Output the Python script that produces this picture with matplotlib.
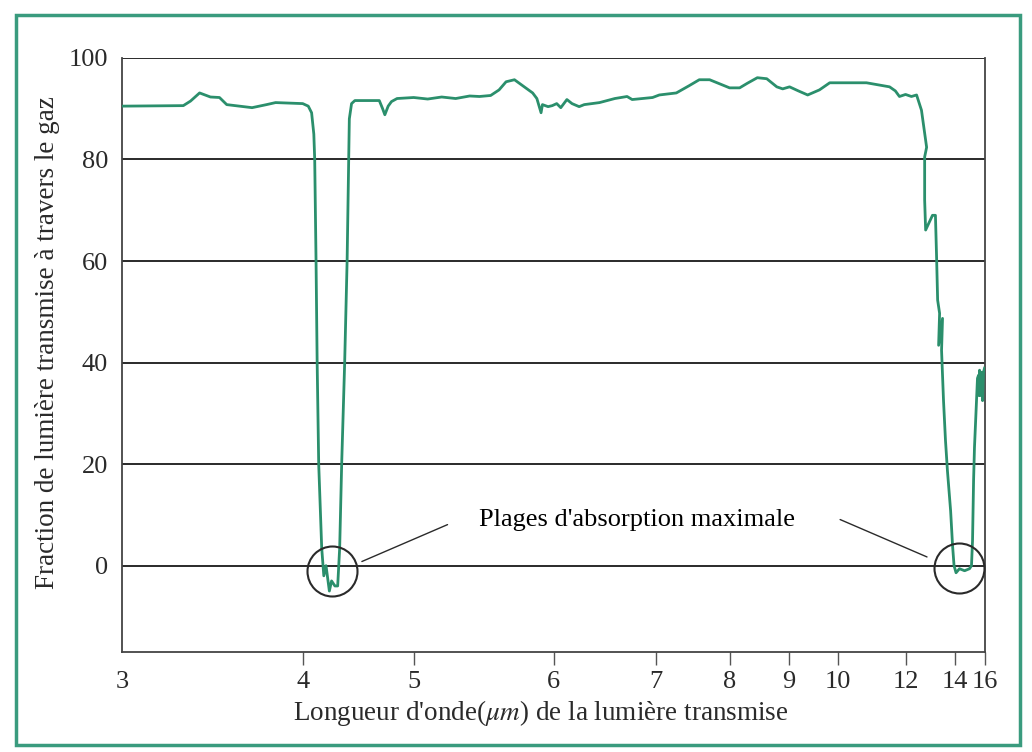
import numpy as np
import matplotlib
matplotlib.use('Agg')
import matplotlib.pyplot as plt
from matplotlib.patches import Rectangle

plt.rcParams['font.family'] = ['Liberation Serif', 'DejaVu Serif']
plt.rcParams['mathtext.fontset'] = 'stix'

# transmission spectrum (wavelength in um, transmitted %)
wavelength = [3.0, 3.34, 3.38, 3.43, 3.49, 3.54, 3.58, 3.72, 3.80, 3.85,
              4.00, 4.05, 4.08, 4.10, 4.108, 4.12, 4.13, 4.144, 4.171, 4.19,
              4.21, 4.24, 4.26, 4.29, 4.315, 4.333, 4.351, 4.378, 4.40, 4.414,
              4.42, 4.44, 4.47, 4.69, 4.72, 4.74, 4.77, 4.80, 4.85, 5.00,
              5.10, 5.20, 5.30, 5.40, 5.47, 5.55, 5.61, 5.66, 5.72, 5.78,
              5.85, 5.88, 5.91, 5.92, 5.96, 5.99, 6.03, 6.07, 6.13, 6.18,
              6.25, 6.30, 6.45, 6.60, 6.72, 6.77, 6.97, 7.05, 7.28, 7.45,
              7.59, 7.73, 8.00, 8.17, 8.30, 8.47, 8.63, 8.80, 8.90, 9.02,
              9.20, 9.39, 9.63, 9.84, 10.85, 11.53, 11.70, 11.82, 12.00, 12.24,
              12.45, 12.65, 12.86, 12.78, 12.78, 12.82, 13.10, 13.18, 13.22, 13.27,
              13.31, 13.39, 13.35, 13.51, 13.47, 13.55, 13.63, 13.71, 13.84, 13.92,
              13.98, 14.10, 14.33, 14.67, 15.00, 15.13, 15.20, 15.27, 15.33, 15.47,
              15.53, 15.60, 15.63, 15.67, 15.73, 15.80, 15.87, 15.93, 16.00]
transmission = [90.5, 90.6, 91.5, 93.1, 92.3, 92.2, 90.8, 90.2, 90.8, 91.2,
                91.0, 90.5, 89.2, 85.0, 80.0, 60.0, 40.0, 20.0, 3.5, -2.0,
                0.0, -5.0, -3.0, -4.0, -4.0, 3.5, 20.0, 40.0, 60.0, 80.0,
                88.0, 91.0, 91.6, 91.6, 90.0, 88.8, 90.5, 91.4, 92.0, 92.2,
                91.9, 92.3, 92.0, 92.5, 92.4, 92.6, 93.7, 95.3, 95.7, 94.5,
                93.1, 92.0, 89.2, 90.8, 90.4, 90.6, 91.0, 90.2, 91.8, 91.0,
                90.4, 90.8, 91.2, 92.0, 92.4, 91.8, 92.2, 92.7, 93.1, 94.5,
                95.7, 95.7, 94.1, 94.1, 95.0, 96.1, 95.9, 94.3, 93.9, 94.3,
                93.5, 92.7, 93.7, 95.1, 95.1, 94.3, 93.5, 92.4, 92.8, 92.4,
                92.7, 89.7, 82.4, 80.5, 72.0, 66.1, 69.0, 69.0, 69.0, 60.2,
                52.3, 49.7, 43.4, 48.7, 42.4, 32.5, 24.7, 18.7, 10.8, 3.9,
                0.0, -1.4, -0.6, -1.0, -0.6, 0.0, 4.9, 16.8, 23.3, 32.5,
                36.9, 37.5, 33.5, 38.5, 33.5, 38.1, 32.5, 38.1, 38.9]

# absorption bands marked with circles
band_centers = [4.26, 14.3]
band_levels = [-1.0, -0.5]
band_label = "Plages d'absorption maximale"

xticks = [3, 4, 5, 6, 7, 8, 9, 10, 12, 14, 16]
yticks = [0, 20, 40, 60, 80, 100]

# the printed wavelength axis is irregular: map each tick to where it sits
tick_pos = [0, 181, 292, 432, 534, 608, 667, 716, 784, 833, 863]
fwd = lambda x: np.interp(x, xticks, tick_pos)
inv = lambda p: np.interp(p, tick_pos, xticks)

green = '#2b8f6c'
ink = '#2a2a2a'

fig = plt.figure(figsize=(10.32, 7.52), dpi=100)
ax = fig.add_axes([0.118, 0.133, 0.836, 0.790])
ax.set_xscale('function', functions=(fwd, inv))
ax.set_xlim(3, 16)
ax.set_ylim(-17, 100)

for v in yticks:
    ax.axhline(v, color=ink, lw=1.4, zorder=1)

ax.plot(wavelength, transmission, color=green, lw=2.0, zorder=3)

ax.plot(band_centers, band_levels, 'o', ms=36, mfc='none', mec=ink, mew=1.5,
        zorder=4)
ax.text(6.82, 8.9, band_label, ha='center', va='center', fontsize=19)
ax.annotate('', xy=(4.51, 0.6), xytext=(5.26, 8.3),
            arrowprops=dict(arrowstyle='-', color=ink, lw=1.0))
ax.annotate('', xy=(12.98, 1.5), xytext=(10.0, 9.3),
            arrowprops=dict(arrowstyle='-', color=ink, lw=1.0))

ax.set_xticks(xticks)
ax.set_xticklabels([str(t) for t in xticks])
ax.set_yticks(yticks)
ax.set_yticklabels([str(t) for t in yticks])
ax.xaxis.set_minor_locator(matplotlib.ticker.NullLocator())
ax.tick_params(axis='x', length=9, width=1.0, color='#555555', pad=5,
               labelsize=19, labelcolor=ink)
ax.tick_params(axis='y', length=0, pad=10, labelsize=19, labelcolor=ink)
ax.xaxis.get_major_ticks()[0].tick1line.set_visible(False)

for s in ['left', 'right', 'bottom']:
    ax.spines[s].set_color('#444444')
    ax.spines[s].set_linewidth(1.3)
ax.spines['top'].set_visible(False)

fig.text(541 / 1032, 1 - 713 / 752,
         "Longueur d'onde($\\mu m$) de la lumière transmise",
         ha='center', va='center', fontsize=19.5, color=ink)
fig.text(48 / 1032, 1 - 343 / 752,
         "Fraction de lumière transmise à travers le gaz",
         ha='center', va='center', rotation=90, fontsize=19.5, color=ink)

fig.patches.append(Rectangle((16 / 1032, 1 - 745 / 752), 1004 / 1032,
                             730 / 752, transform=fig.transFigure,
                             fill=False, edgecolor='#3a9b7e', lw=2.5))

fig.savefig('out.png', dpi=100)
